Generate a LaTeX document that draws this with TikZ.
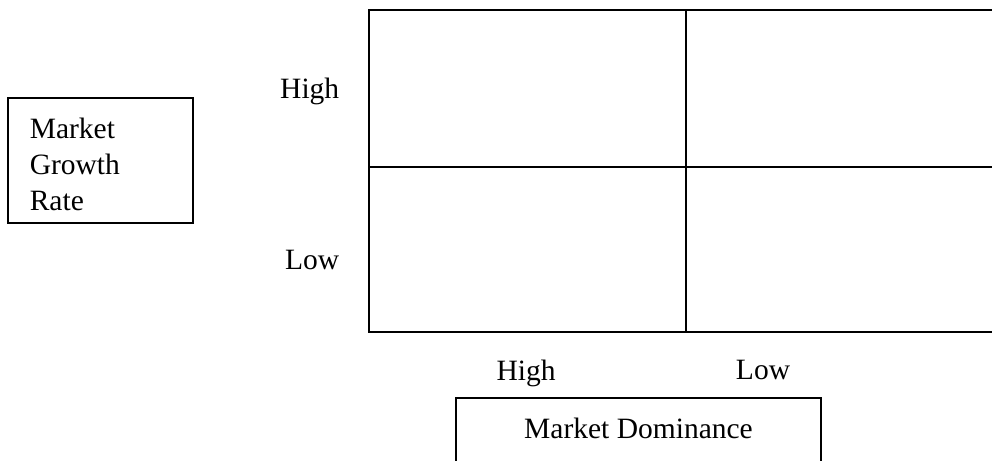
\documentclass[tikz,border=0pt]{standalone}
\usepackage{fontspec}
\setmainfont{Liberation Serif}
\begin{document}
\begin{tikzpicture}[x=1pt,y=-1pt,
  line width=1.6pt,
  lbl/.style={inner sep=0pt,font=\fontsize{29.5}{36}\selectfont}]
\useasboundingbox (0,0) rectangle (992,460);
\clip (0,0) rectangle (992,460);
% grid
\coordinate (gtl) at (369,10);
\coordinate (gbr) at (1010,332);
\draw (gtl) rectangle (gbr);
\draw (686,10) coordinate (vt) -- (686,332) coordinate (vb);
\draw (369,167) coordinate (hl) -- (1010,167) coordinate (hr);
% left box
\draw (8,98) rectangle (193,223);
\node[lbl,anchor=base west] (m1) at (29,138) {Market};
\node[lbl,anchor=base west] (m2) at (29,174) {Growth};
\node[lbl,anchor=base west] (m3) at (29,210) {Rate};
% axis labels
\node[lbl,anchor=base east] (yh) at (340,98) {High};
\node[lbl,anchor=base east] (yl) at (340,269) {Low};
\node[lbl,anchor=base] (xh) at (526,380) {High};
\node[lbl,anchor=base] (xl) at (763,379) {Low};
% bottom box
\draw (456,398) rectangle (821,470);
\node[lbl,anchor=base] (md) at (638.5,438) {Market Dominance};
\end{tikzpicture}
\end{document}
